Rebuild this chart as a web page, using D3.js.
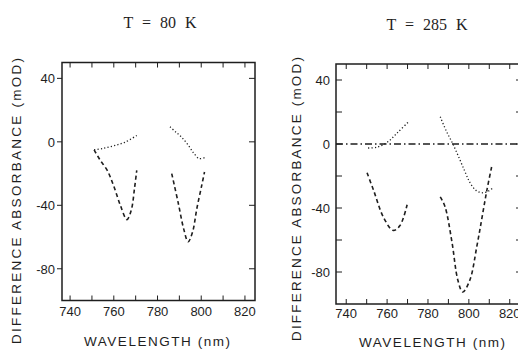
<!DOCTYPE html>
<html>
<head>
<meta charset="utf-8">
<script src="https://cdn.jsdelivr.net/npm/d3@7"></script>
<style>
	body { margin: 0; background: #fff; }
	svg { display: block; }
</style>
</head>
<body>
<div id="chart"></div>
<script>
// T = 80 K  [wavelength nm, mOD]
const dotted80 = [[751, -5], [755, -4.2], [760, -2.5], [765, -0.3], [770.5, 4]];
const dashed80a = [[751, -5], [753.5, -11], [757, -18], [760, -28], [763, -40], [766, -49], [768, -43], [769.5, -29], [770.5, -18]];
const dashed80b = [[786.5, -20], [789.4, -38], [792, -55], [794, -63], [796, -57], [798, -42], [800.3, -27], [801.5, -19]];
const dotted80b = [[785.7, 9.5], [788.5, 6], [791, 3], [794, -2], [796.5, -7], [799, -10.5], [801.5, -10]];

// T = 285 K
const dotted285 = [[750.7, -2.5], [755, -2], [760, 1], [765, 7], [770.2, 13.5]];
const dashed285a = [[750.2, -18], [753.4, -29], [758.3, -46], [763, -54], [766.3, -51], [769.8, -38]];
const dotted285b = [[786, 17], [789, 8], [792, 0.5], [795, -8], [798, -17], [800.5, -24], [803.5, -29], [806.8, -30.5], [809.5, -29.5], [811.7, -27.5]];
const dashed285b = [[786, -33], [788.3, -39], [791.7, -61], [794.6, -85], [797, -92.5], [800.5, -85], [803.9, -64], [806.3, -47], [808.8, -29], [811.2, -14]];
const baseline285 = [[735, 0], [826, 0]];

const xTickLabels = [740, 760, 780, 800, 820];
const xMinorTicks = [740, 750, 760, 770, 780, 790, 800, 810, 820];
const yTickLabels = [40, 0, -40, -80];
const yMinorTicks = [40, 20, 0, -20, -40, -60, -80];

const svg = d3.select("#chart")
	.append("svg")
	.attr("width", 518)
	.attr("height", 351);

svg.append("rect")
	.attr("width", 518)
	.attr("height", 351)
	.attr("fill", "#fff");

const ink = "#1e1e1e";
const sans = "'Liberation Sans', Arial, sans-serif";

function drawPanel(p) {
	const x = d3.scaleLinear().domain(p.xDomain).range(p.xRange),
		y = d3.scaleLinear().domain([-100, 50]).range(p.yRange);
	const g = svg.append("g");

	// frame
	g.append("rect")
		.attr("x", p.xRange[0])
		.attr("y", p.yRange[1])
		.attr("width", p.xRange[1] - p.xRange[0])
		.attr("height", p.yRange[0] - p.yRange[1])
		.attr("fill", "none")
		.attr("stroke", ink)
		.attr("stroke-width", 1.5);

	// x ticks, inward on top and bottom
	xMinorTicks.forEach(t => {
		g.append("line")
			.attr("x1", x(t)).attr("x2", x(t))
			.attr("y1", p.yRange[0]).attr("y2", p.yRange[0] - 5)
			.attr("stroke", ink).attr("stroke-width", 1);
		g.append("line")
			.attr("x1", x(t)).attr("x2", x(t))
			.attr("y1", p.yRange[1]).attr("y2", p.yRange[1] + 5)
			.attr("stroke", ink).attr("stroke-width", 1);
	});

	// y ticks
	p.yTicks.forEach(t => {
		g.append("line")
			.attr("x1", p.xRange[0]).attr("x2", p.xRange[0] + p.yTickLen)
			.attr("y1", y(t)).attr("y2", y(t))
			.attr("stroke", ink).attr("stroke-width", 1);
		g.append("line")
			.attr("x1", p.xRange[1]).attr("x2", p.xRange[1] - 6)
			.attr("y1", y(t)).attr("y2", y(t))
			.attr("stroke", ink).attr("stroke-width", 1);
	});

	g.selectAll(".xl")
		.data(xTickLabels)
		.join("text")
		.attr("x", d => x(d))
		.attr("y", p.xLabelY)
		.attr("text-anchor", "middle")
		.attr("font-family", sans)
		.attr("font-size", 13)
		.attr("fill", ink)
		.text(d => d);

	g.selectAll(".yl")
		.data(yTickLabels)
		.join("text")
		.attr("x", p.yLabelX)
		.attr("y", d => y(d) + 5)
		.attr("text-anchor", "end")
		.attr("font-family", sans)
		.attr("font-size", 13)
		.attr("fill", ink)
		.text(d => d);

	const line = d3.line()
		.x(d => x(d[0]))
		.y(d => y(d[1]))
		.curve(d3.curveCatmullRom);

	p.series.forEach(s => {
		g.append("path")
			.datum(s.data)
			.attr("d", line)
			.attr("fill", "none")
			.attr("stroke", ink)
			.attr("stroke-width", s.width)
			.attr("stroke-dasharray", s.dash);
	});

	// titles
	g.append("text")
		.attr("x", p.titleX)
		.attr("y", p.titleY)
		.attr("text-anchor", "middle")
		.attr("font-family", "'Liberation Serif', 'Times New Roman', serif")
		.attr("font-size", 16)
		.attr("word-spacing", 5)
		.attr("fill", ink)
		.text(p.title);

	g.append("text")
		.attr("x", p.xTitleX)
		.attr("y", p.xTitleY)
		.attr("text-anchor", "middle")
		.attr("font-family", sans)
		.attr("font-size", 13.5)
		.attr("textLength", 146)
		.attr("lengthAdjust", "spacing")
		.attr("fill", ink)
		.text("WAVELENGTH (nm)");

	g.append("text")
		.attr("transform", `translate(${p.yTitleX},${p.yTitleY}) rotate(-90)`)
		.attr("text-anchor", "middle")
		.attr("font-family", sans)
		.attr("font-size", 13.5)
		.attr("textLength", p.yTitleLen)
		.attr("lengthAdjust", "spacing")
		.attr("fill", ink)
		.text("DIFFERENCE ABSORBANCE (mOD)");
}

const dotStyle = { width: 1.3, dash: "1.2,2.2" },
	dashStyle = { width: 1.6, dash: "4,3" };

drawPanel({
	title: "T = 80 K", titleX: 160, titleY: 28,
	xDomain: [736.3, 824.6], xRange: [62, 255],
	yRange: [300.5, 62.5],
	yTicks: yTickLabels, yTickLen: -5,
	xLabelY: 316, yLabelX: 55,
	xTitleX: 157, xTitleY: 346,
	yTitleX: 21, yTitleY: 201, yTitleLen: 286,
	series: [
		Object.assign({ data: dotted80 }, dotStyle),
		Object.assign({ data: dashed80a }, dashStyle),
		Object.assign({ data: dashed80b }, dashStyle),
		Object.assign({ data: dotted80b }, dotStyle)
	]
});

drawPanel({
	title: "T = 285 K", titleX: 427, titleY: 30,
	xDomain: [735, 826], xRange: [336, 522],
	yRange: [304, 64],
	yTicks: yMinorTicks, yTickLen: 6,
	xLabelY: 318, yLabelX: 330,
	xTitleX: 432, xTitleY: 347,
	yTitleX: 301, yTitleY: 199, yTitleLen: 284,
	series: [
		{ data: baseline285, width: 1.3, dash: "7,3,1.5,3" },
		Object.assign({ data: dotted285 }, dotStyle),
		Object.assign({ data: dashed285a }, dashStyle),
		Object.assign({ data: dotted285b }, dotStyle),
		Object.assign({ data: dashed285b }, dashStyle)
	]
});
</script>
</body>
</html>
